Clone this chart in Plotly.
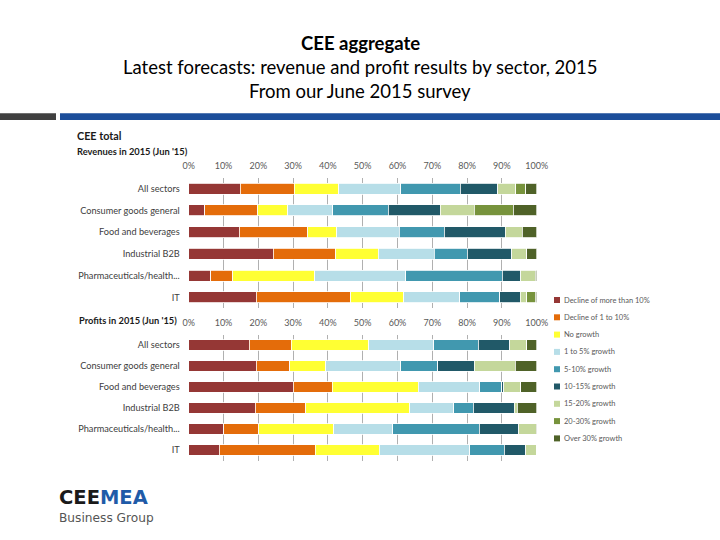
import plotly.graph_objects as go

sectors = ["All sectors", "Consumer goods general", "Food and beverages",
           "Industrial B2B", "Pharmaceuticals/health...", "IT"]

categories = ["Decline of more than 10%", "Decline of 1 to 10%", "No growth",
              "1 to 5% growth", "5-10% growth", "10-15% growth",
              "15-20% growth", "20-30% growth", "Over 30% growth"]

colors = ["#953735", "#E46C0A", "#FFFF33", "#B7DEE8", "#4198AF",
          "#215968", "#C4D79B", "#77933C", "#4F6228"]

# Revenues 2015 (Jun '15): share per category, one list per category, in sector order
rev_decline_10 = [14.8, 4.6, 14.5, 24.3, 6.3, 19.4]
rev_decline_1_10 = [15.5, 15.3, 19.7, 17.9, 6.3, 27.2]
rev_no_growth = [12.8, 8.5, 8.4, 12.3, 23.6, 15.2]
rev_g1_5 = [17.8, 13.0, 17.9, 16.1, 26.1, 16.1]
rev_g5_10 = [17.2, 16.0, 13.0, 9.5, 27.8, 11.5]
rev_g10_15 = [10.7, 14.9, 17.5, 12.8, 5.3, 5.9]
rev_g15_20 = [5.2, 9.8, 4.9, 4.3, 4.2, 1.9]
rev_g20_30 = [2.9, 11.2, 0.0, 0.0, 0.0, 2.4]
rev_over30 = [3.1, 6.7, 4.1, 2.8, 0.4, 0.4]

# Profits 2015 (Jun '15)
pro_decline_10 = [17.4, 19.4, 30.1, 19.1, 10.0, 8.8]
pro_decline_1_10 = [12.1, 9.7, 11.1, 14.6, 10.1, 27.6]
pro_no_growth = [22.2, 10.3, 24.8, 29.8, 21.6, 18.4]
pro_g1_5 = [18.7, 21.5, 17.6, 12.6, 16.9, 26.0]
pro_g5_10 = [12.8, 10.6, 6.3, 5.6, 24.9, 9.9]
pro_g10_15 = [9.1, 10.5, 0.7, 11.9, 11.3, 6.1]
pro_g15_20 = [4.8, 11.9, 4.8, 0.8, 5.0, 3.2]
pro_g20_30 = [0.0, 0.0, 0.0, 0.0, 0.0, 0.0]
pro_over30 = [2.9, 6.1, 4.6, 5.6, 0.2, 0.0]

revenues = [rev_decline_10, rev_decline_1_10, rev_no_growth, rev_g1_5, rev_g5_10,
            rev_g10_15, rev_g15_20, rev_g20_30, rev_over30]
profits = [pro_decline_10, pro_decline_1_10, pro_no_growth, pro_g1_5, pro_g5_10,
           pro_g10_15, pro_g15_20, pro_g20_30, pro_over30]

W, H = 720, 540
FONT = "Lato"

fig = go.Figure()

for i, cat in enumerate(categories):
    fig.add_trace(go.Bar(y=sectors, x=revenues[i], orientation="h", name=cat,
                         marker=dict(color=colors[i], line=dict(color="white", width=0.8)),
                         width=0.5, xaxis="x", yaxis="y", showlegend=False))
    fig.add_trace(go.Bar(y=sectors, x=profits[i], orientation="h", name=cat,
                         marker=dict(color=colors[i], line=dict(color="white", width=0.8)),
                         width=0.48, xaxis="x2", yaxis="y2", showlegend=False))

x0 = 188.7 / W
x1 = 536.7 / W
ticks = list(range(0, 101, 10))
xcommon = dict(range=[0, 100], tickvals=ticks, ticktext=[f"{t}%" for t in ticks],
               side="top", showgrid=True, gridcolor="#B0B0B0", gridwidth=1,
               zeroline=False, showline=False, ticks="",
               tickfont=dict(family=FONT, size=9, color="#595959"),
               ticklabelstandoff=6, fixedrange=True, automargin=False)
ycommon = dict(type="category", categoryorder="array", categoryarray=sectors,
               range=[5.5, -0.5], showgrid=False, zeroline=False, ticks="",
               tickfont=dict(family=FONT, size=9.2, color="#404040"),
               ticklabelstandoff=8, fixedrange=True, automargin=False)

fig.update_layout(
    width=W, height=H, barmode="stack",
    margin=dict(l=0, r=0, t=0, b=0),
    paper_bgcolor="white", plot_bgcolor="white",
    showlegend=False,
    xaxis=dict(domain=[x0, x1], anchor="y", **xcommon),
    yaxis=dict(domain=[1 - 308.2 / H, 1 - 177.8 / H], anchor="x", **ycommon),
    xaxis2=dict(domain=[x0, x1], anchor="y2", **xcommon),
    yaxis2=dict(domain=[1 - 460.5 / H, 1 - 334.5 / H], anchor="x2", **ycommon),
)

shapes = [
    dict(type="rect", xref="paper", yref="paper", x0=0, x1=56 / W,
         y0=1 - 120 / H, y1=1 - 113.3 / H, fillcolor="#404040", line=dict(width=0)),
    dict(type="rect", xref="paper", yref="paper", x0=60 / W, x1=1,
         y0=1 - 120 / H, y1=1 - 113.3 / H, fillcolor="#1C4E9A", line=dict(width=0)),
]


def ann(text, x, y, size, color="black", xanchor="center", family=FONT):
    return dict(text=text, x=x / W, y=1 - y / H, xref="paper", yref="paper",
                xanchor=xanchor, yanchor="middle", showarrow=False,
                font=dict(family=family, size=size, color=color))


annotations = [
    ann("<b>CEE aggregate</b>", 360, 43, 18.5),
    ann("Latest forecasts: revenue and profit results by sector, 2015", 360, 67, 18.5),
    ann("From our June 2015 survey", 360, 91, 18.5),
    ann("<b>CEE total</b>", 75, 136, 10.8, "#1a1a1a", "left"),
    ann("<b>Revenues in 2015 (Jun '15)</b>", 75, 151, 9.3, "#1a1a1a", "left"),
    ann("<b>Profits in 2015 (Jun '15)</b>", 77, 320, 9.3, "#1a1a1a", "left"),
]

# legend (shared)
for i, cat in enumerate(categories):
    yc = 300 + i * 17.3
    shapes.append(dict(type="rect", xref="paper", yref="paper",
                       x0=554 / W, x1=560 / W, y0=1 - (yc + 3) / H, y1=1 - (yc - 3) / H,
                       fillcolor=colors[i], line=dict(width=0)))
    annotations.append(ann(cat, 562, yc, 7.5, "#595959", "left"))

# logo text
annotations.append(ann("<b>CEE</b><b><span style='color:#1F5BA8'>MEA</span></b>",
                       57, 497.5, 19.5, "#1a1a1a", "left", "DejaVu Sans"))
annotations.append(ann("Business Group", 57, 517.5, 12.2, "#555555", "left", "DejaVu Sans"))

fig.update_layout(shapes=shapes, annotations=annotations)
fig.write_html("out.html", post_script="document.body.style.margin='0px';",
               config={"displayModeBar": False})
